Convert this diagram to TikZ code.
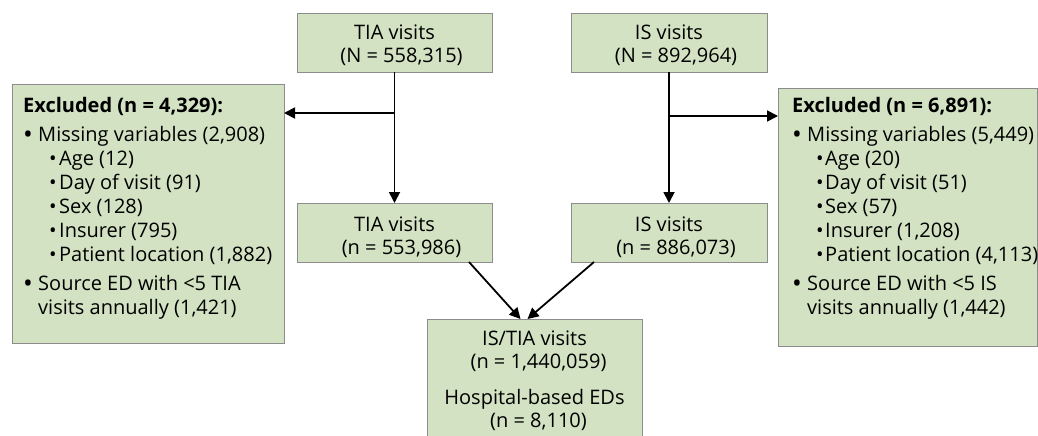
\documentclass[tikz,border=0pt]{standalone}
\usepackage{fontspec}
\setmainfont{Open Sans}
\usetikzlibrary{arrows.meta}
\definecolor{boxfill}{RGB}{210,226,194}
\definecolor{boxline}{RGB}{140,140,140}
\newcommand{\mainbul}{\makebox[15pt][l]{\fontsize{26}{24}\selectfont\raisebox{-2pt}{•}}}
\newcommand{\subbul}{\hspace*{26pt}\makebox[10pt][l]{•}}
\newcommand{\subbulR}{\hspace*{24pt}\makebox[9pt][l]{•}}
\begin{document}
\begin{tikzpicture}[x=1pt,y=-1pt,
  box/.style={draw=boxline, fill=boxfill, line width=1pt, inner sep=0pt, outer sep=0pt, anchor=north west},
  ctxt/.style={font=\fontsize{20}{23}\selectfont, align=center, inner sep=0pt, anchor=base},
  ltxt/.style={font=\fontsize{20}{24}\selectfont, align=left, inner sep=0pt, anchor=base west},
  arr/.style={line width=1.8pt, -{Triangle[length=11pt,width=11pt]}}]
\clip (0,0) rectangle (1038,436);
% boxes
\node[box, minimum width=195pt, minimum height=58pt] (tia1) at (297,14) {};
\node[box, minimum width=196pt, minimum height=58pt] (is1) at (571,14) {};
\node[box, minimum width=195pt, minimum height=59pt] (tia2) at (297,203) {};
\node[box, minimum width=196pt, minimum height=59pt] (is2) at (571,203) {};
\node[box, minimum width=272pt, minimum height=259pt] (excl1) at (12,84) {};
\node[box, minimum width=259pt, minimum height=258pt] (excl2) at (778,88) {};
\node[box, minimum width=215pt, minimum height=140pt] (bot) at (427,319) {};
% texts (anchor base = baseline of the last line)
\node[ctxt] (tia1t) at (394.5,63) {TIA visits\\\hspace*{14pt}(N = 558,315)};
\node[ctxt] (is1t) at (669,63) {IS visits\\\hspace*{14pt}(N = 892,964)};
\node[ctxt] (tia2t) at (394.5,254) {TIA visits\\\hspace*{14pt}(n = 553,986)};
\node[ctxt] (is2t) at (669,254) {IS visits\\\hspace*{14pt}(n = 886,073)};
\node[ctxt] (bott) at (534.5,427) {IS/TIA visits\\\hspace*{8pt}(n = 1,440,059)\\[13pt]Hospital-based EDs\\\hspace*{8pt}(n = 8,110)};
\node[ltxt] (excl1t) at (23,314) {\textbf{Excluded (n = 4,329):}\\[5pt]
\mainbul Missing variables (2,908)\\
\subbul Age (12)\\
\subbul Day of visit (91)\\
\subbul Sex (128)\\
\subbul Insurer (795)\\
\subbul Patient location (1,882)\\[5pt]
\mainbul Source ED with <5 TIA\\
\hspace*{15pt}visits annually (1,421)};
\node[ltxt] (excl2t) at (792,314) {\textbf{Excluded (n = 6,891):}\\[5pt]
\mainbul Missing variables (5,449)\\
\subbulR Age (20)\\
\subbulR Day of visit (51)\\
\subbulR Sex (57)\\
\subbulR Insurer (1,208)\\
\subbulR Patient location (4,113)\\[5pt]
\mainbul Source ED with <5 IS\\
\hspace*{15pt}visits annually (1,442)};
% connectors
\draw[arr] (tia1) -- (tia2);
\draw[arr] (is1) -- (is2);
\path (tia1.south) ++(0,41) coordinate (b1);
\path (is1.south) ++(0,44) coordinate (b2);
\draw[arr] (b1) -- (b1 -| excl1.east);
\draw[arr] (b2) -- (b2 -| excl2.west);
\draw[arr] ([xshift=-23pt]tia2.south east) -- ([xshift=-14pt]bot.north);
\draw[arr] ([xshift=23pt]is2.south west) -- ([xshift=-7pt]bot.north);
\end{tikzpicture}
\end{document}
